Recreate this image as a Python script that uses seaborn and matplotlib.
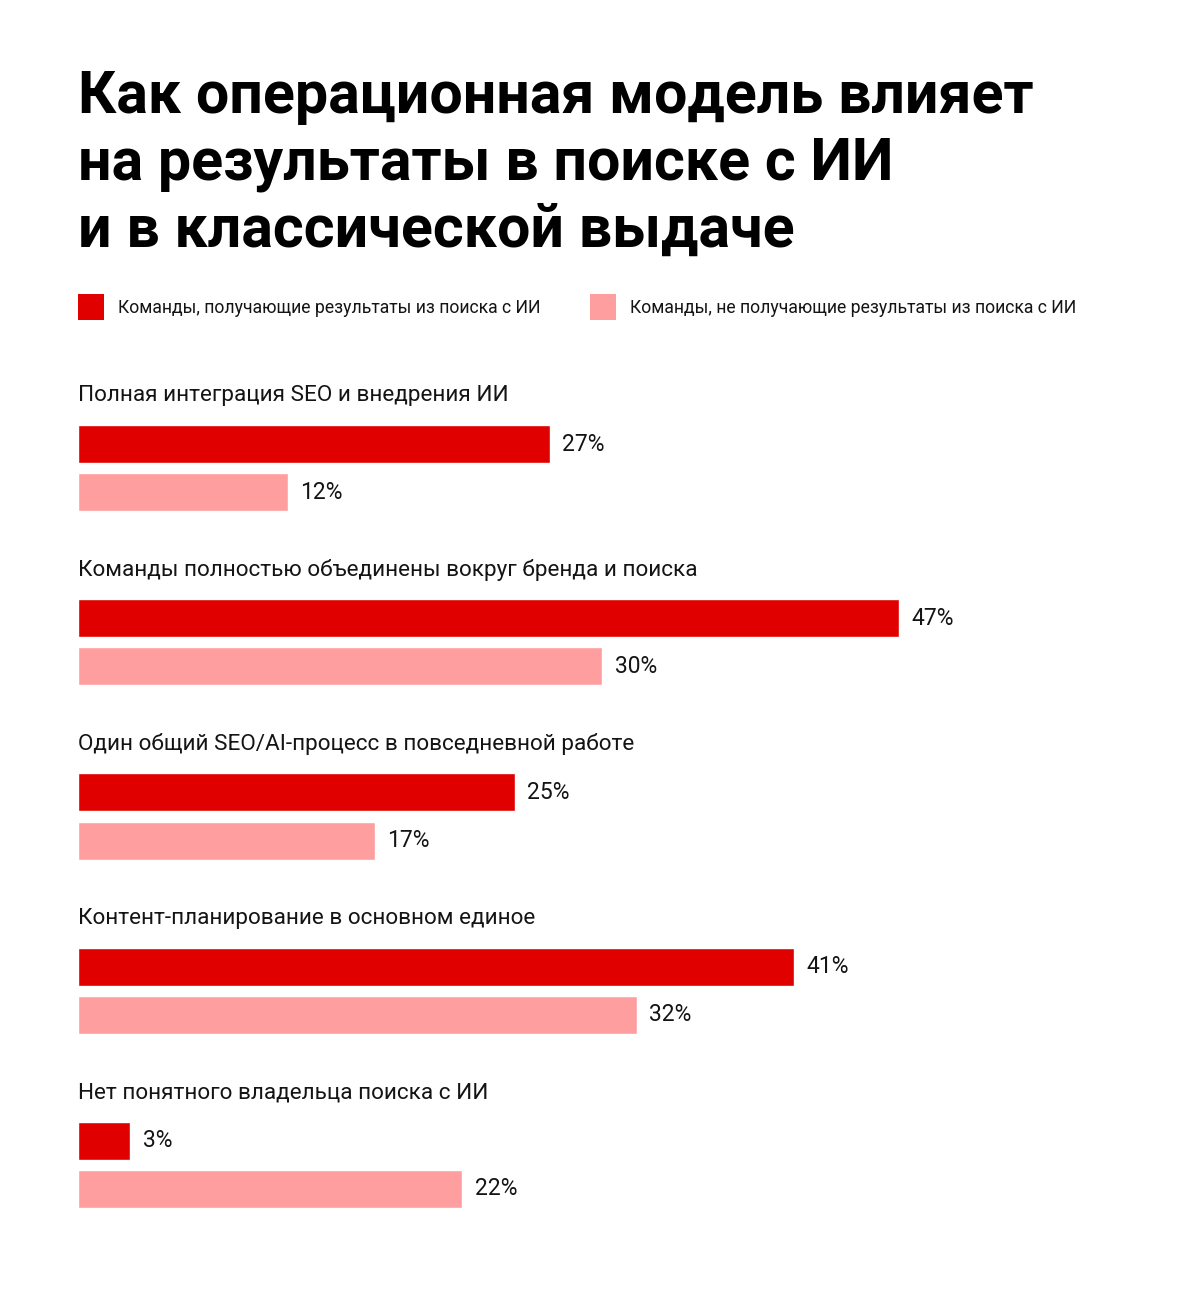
import pandas as pd
import seaborn as sns
import matplotlib.pyplot as plt
from matplotlib.patches import Patch

# Data
title_lines = [
    "Как операционная модель влияет",
    "на результаты в поиске с ИИ",
    "и в классической выдаче",
]
categories = [
    "Полная интеграция SEO и внедрения ИИ",
    "Команды полностью объединены вокруг бренда и поиска",
    "Один общий SEO/AI-процесс в повседневной работе",
    "Контент-планирование в основном единое",
    "Нет понятного владельца поиска с ИИ",
]
groups = [
    "Команды, получающие результаты из поиска с ИИ",
    "Команды, не получающие результаты из поиска с ИИ",
]
with_ai = [27, 47, 25, 41, 3]
without_ai = [12, 30, 17, 32, 22]
colors = ["#E10000", "#FF9E9E"]

df = pd.DataFrame(
    {
        "category": categories * 2,
        "group": [groups[0]] * len(categories) + [groups[1]] * len(categories),
        "value": with_ai + without_ai,
    }
)

sns.set_theme(style="white")
plt.rcParams["font.family"] = ["Roboto", "DejaVu Sans"]

W, H = 1201, 1309
fig = plt.figure(figsize=(W / 100, H / 100), dpi=100)
fig.patch.set_facecolor("white")

# Axes placed in pixel terms: left edge at x=78, rows every ~174 px
ax = fig.add_axes([78 / W, (H - 1252) / H, 1048 / W, 871 / H])

sns.barplot(
    data=df,
    y="category",
    x="value",
    hue="group",
    hue_order=groups,
    palette=colors,
    order=categories,
    orient="h",
    width=0.552,
    gap=0.21,
    dodge=True,
    ax=ax,
    legend=False,
    saturation=1,
)
ax.set_xlim(0, 60)
ax.set_ylim(4.5, -0.5)

for container in ax.containers:
    ax.bar_label(
        container,
        fmt="%d%%",
        padding=9,
        fontsize=16.5,
        fontweight="normal",
        color="#141414",
    )

# Category headings above each pair of bars
for i, cat in enumerate(categories):
    ax.text(
        0,
        i - 0.415,
        cat,
        ha="left",
        va="center",
        fontsize=16.2,
        fontweight="normal",
        color="#141414",
        clip_on=False,
    )

ax.set_xlabel("")
ax.set_ylabel("")
ax.set_xticks([])
ax.set_yticks([])
sns.despine(ax=ax, left=True, bottom=True)

# Title
for k, line in enumerate(title_lines):
    fig.text(
        78 / W,
        1 - (113 + 67 * k) / H,
        line,
        ha="left",
        va="baseline",
        fontsize=42.6,
        fontweight="bold",
        color="black",
    )

# Legend
handles = [Patch(facecolor=c, edgecolor="none") for c in colors]
ax.legend(
    handles,
    groups,
    ncol=2,
    loc="center left",
    bbox_to_anchor=(78 / W, 1 - 307 / H),
    bbox_transform=fig.transFigure,
    frameon=False,
    handlelength=1.48,
    handleheight=1.88,
    handletextpad=0.8,
    columnspacing=2.8,
    borderpad=0,
    borderaxespad=0,
    prop={"weight": "normal", "size": 12.7},
    labelcolor="#141414",
)

fig.savefig("out.png", dpi=100, facecolor="white")
